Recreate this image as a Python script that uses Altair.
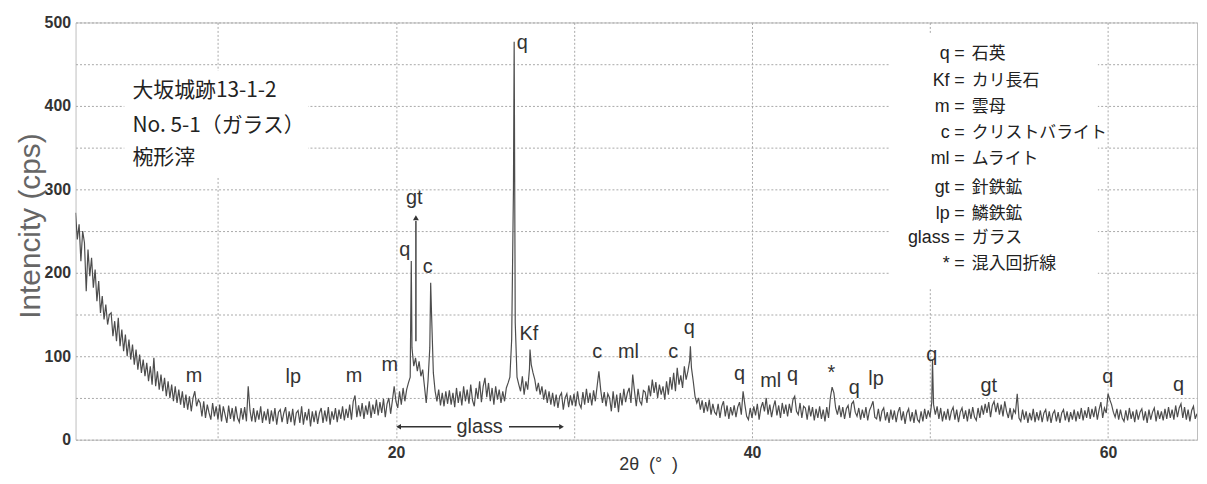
import altair as alt
import pandas as pd

# ---------------- data ----------------
THETA_START = 2.0
THETA_STEP = 0.1
intensity = [
    272, 240, 258, 214, 250, 236, 178, 228, 196, 218,   # 2
    182, 204, 166, 190, 152, 172, 144, 162, 138, 150,   # 3
    152, 124, 142, 118, 146, 112, 132, 106, 126, 100,   # 4
    120, 96, 114, 90, 108, 84, 102, 80, 96, 76,         # 5
    92, 70, 88, 66, 98, 64, 82, 60, 78, 58,             # 6
    74, 52, 70, 50, 66, 46, 64, 44, 60, 42,             # 7
    58, 38, 54, 36, 52, 34, 50, 58, 40, 48,             # 8
    44, 28, 46, 26, 42, 32, 24, 44, 28, 40,             # 9
    24, 42, 22, 40, 30, 20, 41, 25, 38, 22,             # 10
    40, 26, 21, 38, 24, 39, 22, 64, 35, 22,             # 11
    38, 21, 35, 24, 40, 20, 34, 23, 37, 19,             # 12
    35, 22, 38, 18, 33, 36, 21, 32, 39, 19,             # 13
    34, 21, 37, 17, 32, 35, 20, 40, 18, 33,             # 14
    23, 37, 16, 34, 21, 35, 19, 32, 38, 20,             # 15
    35, 22, 39, 18, 34, 24, 38, 21, 36, 25,             # 16
    40, 23, 37, 26, 42, 24, 46, 53, 27, 41,             # 17
    28, 44, 25, 41, 30, 46, 26, 42, 31, 48,             # 18
    29, 45, 32, 49, 27, 43, 50, 31, 47, 64,             # 19
    46, 38, 58, 42, 62, 46, 60, 68, 75, 110,            # 20
    88, 98, 82, 94, 76, 84, 64, 44, 70, 110,            # 21
    150, 80, 58, 46, 60, 41, 56, 40, 58, 43,            # 22
    59, 42, 56, 39, 62, 44, 58, 41, 64, 46,             # 23
    60, 43, 66, 47, 40, 62, 49, 70, 45, 64,             # 24
    74, 51, 68, 46, 62, 42, 64, 48, 60, 44,             # 25
    58, 46, 62, 68, 75, 120, 300, 140, 75, 66,          # 26
    58, 76, 54, 70, 60, 85, 90, 80, 72, 58,             # 27
    68, 54, 64, 48, 60, 44, 58, 42, 56, 40,             # 28
    54, 38, 52, 56, 36, 50, 55, 39, 53, 41,             # 29
    55, 40, 58, 43, 38, 57, 42, 61, 44, 56,             # 30
    41, 59, 46, 64, 82, 60, 44, 57, 40, 55,             # 31
    50, 34, 58, 38, 54, 33, 56, 41, 61, 45,             # 32
    56, 62, 44, 78, 58, 40, 61, 46, 42, 59,             # 33
    57, 44, 65, 52, 72, 56, 69, 50, 66, 54,             # 34
    64, 48, 70, 54, 75, 60, 80, 58, 86, 66,             # 35
    77, 62, 88, 72, 82, 95, 86, 70, 52, 44,             # 36
    50, 36, 47, 32, 45, 34, 48, 30, 43, 33,             # 37
    30, 43, 26, 40, 46, 28, 41, 25, 39, 29,             # 38
    41, 27, 39, 45, 30, 58, 42, 28, 24, 38,             # 39
    26, 40, 29, 43, 24, 38, 45, 34, 50, 30,             # 40
    42, 27, 39, 47, 29, 41, 26, 44, 31, 42,             # 41
    28, 43, 32, 48, 52, 34, 30, 44, 26, 40,             # 42
    38, 24, 41, 28, 39, 23, 37, 26, 40, 25,             # 43
    36, 22, 39, 26, 50, 63, 56, 38, 30, 41,             # 44
    27, 39, 25, 37, 41, 26, 43, 46, 33, 28,             # 45
    38, 24, 36, 26, 39, 23, 35, 40, 46, 27,             # 46
    25, 37, 22, 34, 38, 23, 33, 20, 36, 24,             # 47
    35, 21, 33, 39, 23, 34, 19, 32, 37, 22,             # 48
    33, 20, 36, 24, 21, 34, 22, 37, 25, 35,             # 49
    27, 45, 42, 30, 40, 25, 38, 22, 34, 24,             # 50
    37, 23, 34, 39, 24, 36, 21, 33, 38, 25,             # 51
    35, 22, 37, 25, 39, 27, 23, 38, 26, 41,             # 52
    30, 43, 32, 45, 27, 41, 46, 33, 44, 30,             # 53
    42, 28, 46, 34, 26, 38, 24, 36, 32, 55,             # 54
    26, 22, 36, 24, 34, 20, 32, 23, 37, 21,             # 55
    33, 23, 35, 21, 32, 36, 22, 34, 20, 31,             # 56
    35, 22, 33, 20, 32, 36, 23, 34, 21, 33,             # 57
    24, 36, 22, 34, 25, 38, 23, 35, 26, 39,             # 58
    25, 37, 27, 40, 24, 36, 45, 26, 38, 32,             # 59
    55, 48, 42, 33, 27, 37, 24, 36, 26, 22,             # 60
    35, 23, 38, 25, 34, 21, 36, 24, 33, 37,             # 61
    23, 34, 20, 36, 24, 33, 38, 22, 35, 25,             # 62
    34, 23, 37, 25, 39, 26, 36, 24, 41, 27,             # 63
    38, 43, 26, 39, 24, 36, 22, 35, 40, 25,             # 64
    31,                                                 # 65
]
apex_theta = [20.86, 21.95, 26.64, 27.53, 36.54, 50.14]
apex_cps = [214, 188, 477, 108, 112, 96]

peak_labels = ["m", "lp", "m", "m", "q", "gt", "c", "q", "Kf", "c", "ml", "c", "q",
               "q", "ml", "q", "*", "q", "lp", "q", "gt", "q", "q"]
peak_label_x = [8.65, 14.23, 17.64, 19.65, 20.49, 21.03, 21.78, 27.1, 27.47, 31.3, 33.06,
                35.57, 36.47, 39.3, 41.05, 42.28, 44.46, 45.74, 46.97, 50.1, 53.3, 59.99, 63.96]
peak_label_y = [76, 75, 76, 90, 227, 290, 207, 475, 126, 105, 105, 105, 134,
                79, 70, 77, 80, 62, 73, 102, 64, 75, 65]

sample_lines = ["大坂城跡13-1-2", "No. 5-1（ガラス）", "椀形滓"]
sample_y = [418, 376, 338]

legend_keys = ["q", "Kf", "m", "c", "ml", "gt", "lp", "glass", "*"]
legend_names = ["石英", "カリ長石", "雲母", "クリストバライト", "ムライト",
                "針鉄鉱", "鱗鉄鉱", "ガラス", "混入回折線"]
legend_y = [462, 430, 399, 367, 336, 302, 271, 242, 211]

# ---------------- frames ----------------
theta = [round(THETA_START + THETA_STEP * i, 2) for i in range(len(intensity))]
trace = pd.concat([
    pd.DataFrame({"x": theta, "y": intensity}),
    pd.DataFrame({"x": apex_theta, "y": apex_cps}),
]).sort_values("x").reset_index(drop=True)

labels_df = pd.DataFrame({"x": peak_label_x, "y": peak_label_y, "t": peak_labels})
sample_df = pd.DataFrame({"x": [5.2] * 3, "y": sample_y, "t": sample_lines})
leg_key_df = pd.DataFrame({"x": [51.1] * 9, "y": legend_y, "t": legend_keys})
leg_eq_df = pd.DataFrame({"x": [51.66] * 9, "y": legend_y, "t": ["="] * 9})
leg_name_df = pd.DataFrame({"x": [52.35] * 9, "y": legend_y, "t": legend_names})
boxes_df = pd.DataFrame({"x": [4.74, 47.75], "x2": [15.07, 59.43],
                         "y": [314, 181], "y2": [442, 487]})

LAT = "Liberation Sans, Noto Sans CJK JP"
CJK = "Noto Sans CJK JP"
TXT = "#333333"

xscale = alt.Scale(domain=[2, 65], nice=False, zero=False)
yscale = alt.Scale(domain=[0, 500], nice=False)
xaxis = alt.Axis(values=[10, 20, 30, 40, 50, 60],
                 labelExpr="datum.value % 20 == 0 ? datum.label : ''",
                 title=None, grid=True, ticks=False, domain=False, labelFlush=False,
                 labelFont="Liberation Sans", labelFontSize=16, labelFontWeight="bold",
                 labelColor=TXT, labelPadding=5,
                 gridColor="#a8a8a8", gridDash=[2, 2], gridWidth=1)
yaxis = alt.Axis(values=list(range(0, 501, 50)),
                 labelExpr="datum.value % 100 == 0 ? datum.label : ''",
                 title=None, grid=True, ticks=False, domain=False, labelFlush=False,
                 labelFont="Liberation Sans", labelFontSize=16, labelFontWeight="bold",
                 labelColor=TXT, labelPadding=5,
                 gridColor="#a8a8a8", gridDash=[2, 2], gridWidth=1)


def X(f="x"):
    return alt.X(f"{f}:Q", scale=xscale, axis=xaxis)


def Y(f="y"):
    return alt.Y(f"{f}:Q", scale=yscale, axis=yaxis)


boxes = alt.Chart(boxes_df).mark_rect(color="white").encode(
    x=X(), x2="x2:Q", y=Y(), y2="y2:Q")

line = alt.Chart(trace).mark_line(color="#4d4d4d", strokeWidth=1.2, clip=True).encode(
    x=X(), y=Y())

peak_text = alt.Chart(labels_df).mark_text(
    font=LAT, fontSize=20, color=TXT, baseline="middle", align="center").encode(
    x=X(), y=Y(), text="t:N")

gt_arrow = alt.Chart(pd.DataFrame({"x": [21.12], "y": [118], "y2": [262]})).mark_rule(
    color="#444444", strokeWidth=1.5).encode(x=X(), y=Y(), y2="y2:Q")
gt_head = alt.Chart(pd.DataFrame({"x": [21.12], "y": [266]})).mark_point(
    shape="triangle-up", filled=True, color="#333333", size=35, opacity=1).encode(x=X(), y=Y())

glass_df = pd.DataFrame({"x": [20.1, 26.35], "x2": [23.1, 29.3], "y": [15.5, 15.5]})
glass_lines = alt.Chart(glass_df).mark_rule(color="#333333", strokeWidth=1.3).encode(
    x=X(), x2="x2:Q", y=Y())
glass_heads = alt.Chart(pd.DataFrame({"x": [20.15, 29.3], "y": [15.5, 15.5],
                                      "s": ["triangle-left", "triangle-right"]})).mark_point(
    filled=True, color="#333333", size=30, opacity=1).encode(
    x=X(), y=Y(), shape=alt.Shape("s:N", scale=None, legend=None))
glass_text = alt.Chart(pd.DataFrame({"x": [24.7], "y": [15.5], "t": ["glass"]})).mark_text(
    font=LAT, fontSize=20, color=TXT, baseline="middle", align="center").encode(
    x=X(), y=Y(), text="t:N")

sample_text = alt.Chart(sample_df).mark_text(
    font=CJK, fontSize=21, color="#222222", baseline="middle", align="left").encode(
    x=X(), y=Y(), text="t:N")

leg_keys = alt.Chart(leg_key_df).mark_text(
    font=LAT, fontSize=18, color="#222222", baseline="middle", align="right").encode(
    x=X(), y=Y(), text="t:N")
leg_eq = alt.Chart(leg_eq_df).mark_text(
    font=LAT, fontSize=18, color="#222222", baseline="middle", align="center").encode(
    x=X(), y=Y(), text="t:N")
leg_names = alt.Chart(leg_name_df).mark_text(
    font=CJK, fontSize=17, color="#222222", baseline="middle", align="left").encode(
    x=X(), y=Y(), text="t:N")

one = pd.DataFrame({"k": [0]})
ytitle = alt.Chart(one).mark_text(
    font="Liberation Sans", fontSize=30, color="#666666", angle=270,
    align="center", baseline="alphabetic").encode(
    x=alt.value(-36), y=alt.value(205), text=alt.value("Intencity (cps)"))
xtitle = alt.Chart(one).mark_text(
    font="Liberation Sans", fontSize=18, color=TXT, align="center", baseline="middle").encode(
    x=alt.value(577), y=alt.value(446),
    text=alt.value("2θ\u00a0\u00a0(°\u00a0\u00a0)"))

chart = alt.layer(
    boxes, line, peak_text, gt_arrow, gt_head, glass_lines, glass_heads, glass_text,
    sample_text, leg_keys, leg_eq, leg_names, ytitle, xtitle
).properties(
    width=1129, height=420,
    autosize=alt.AutoSizeParams(type="none"),
    padding={"left": 68, "top": 13, "right": 2, "bottom": 35},
    background="white",
).configure_view(stroke="#bdbdbd", strokeWidth=1)

chart.save("out.html", embed_options={"renderer": "svg", "actions": False})
